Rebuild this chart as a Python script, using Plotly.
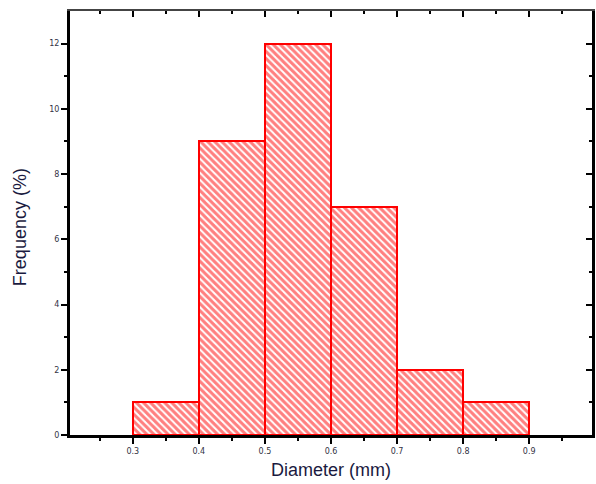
import plotly.graph_objects as go

bin_left = [0.3, 0.4, 0.5, 0.6, 0.7, 0.8]
counts = [1, 9, 12, 7, 2, 1]
bin_width = 0.1
x_ticks = [0.3, 0.4, 0.5, 0.6, 0.7, 0.8, 0.9]
x_ticklabels = ["0.3", "0.4", "0.5", "0.6", "0.7", "0.8", "0.9"]
x_minor = [0.25, 0.35, 0.45, 0.55, 0.65, 0.75, 0.85, 0.95]
y_ticks = [0, 2, 4, 6, 8, 10, 12]
y_minor = [1, 3, 5, 7, 9, 11]

centers = [b + bin_width / 2 for b in bin_left]

fig = go.Figure()
fig.add_trace(go.Bar(
    x=centers, y=counts, width=[bin_width] * len(counts),
    marker=dict(color="white",
                line=dict(color="#ff0000", width=2),
                pattern=dict(shape="\\", fgcolor="#ff0000", bgcolor="white",
                             size=5, solidity=0.6, fillmode="overlay")),
    showlegend=False, hoverinfo="skip"))
# invisible trace for mirrored axes
fig.add_trace(go.Scatter(x=[0.25], y=[0], xaxis="x2", yaxis="y2",
                         mode="markers", marker=dict(opacity=0),
                         showlegend=False, hoverinfo="skip"))

tickfont = dict(family="DejaVu Sans", size=8, color="#333344")
titlefont = dict(family="Liberation Sans", size=18, color="#1a1a40")
xr = [0.205, 0.995]
fig.update_layout(
    width=596, height=484,
    margin=dict(l=70, r=4, t=11, b=49, autoexpand=False),
    plot_bgcolor="white", paper_bgcolor="white",
    bargap=0,
    xaxis=dict(range=xr, tickvals=x_ticks, ticktext=x_ticklabels, automargin=False,
               ticks="outside", ticklen=6, tickwidth=2, tickcolor="black",
               showline=True, linecolor="black", linewidth=3,
               showgrid=False, zeroline=False, tickfont=tickfont,
               minor=dict(tickvals=x_minor, ticks="outside", ticklen=3,
                          tickcolor="black", tickwidth=1.5)),
    yaxis=dict(range=[0, 13], tickvals=y_ticks, automargin=False,
               ticks="outside", ticklen=6, tickwidth=2, tickcolor="black",
               showline=True, linecolor="black", linewidth=3,
               showgrid=False, zeroline=False, tickfont=tickfont,
               minor=dict(tickvals=y_minor, ticks="outside", ticklen=3,
                          tickcolor="black", tickwidth=1.5)),
    xaxis2=dict(overlaying="x", side="top", range=xr, tickvals=x_ticks, automargin=False,
                showticklabels=False, ticks="inside", ticklen=6, tickwidth=2,
                tickcolor="black", showline=True, linecolor="#444444", linewidth=1.5,
                showgrid=False, zeroline=False,
                minor=dict(tickvals=x_minor, ticks="inside", ticklen=3,
                           tickcolor="black", tickwidth=1.5)),
    yaxis2=dict(overlaying="y", side="right", range=[0, 13], tickvals=y_ticks, automargin=False,
                showticklabels=False, ticks="inside", ticklen=6, tickwidth=2,
                tickcolor="black", showline=True, linecolor="black", linewidth=3,
                showgrid=False, zeroline=False,
                minor=dict(tickvals=y_minor, ticks="inside", ticklen=3,
                           tickcolor="black", tickwidth=1.5)),
    annotations=[
        dict(text="Diameter (mm)", xref="paper", yref="paper", x=0.5, y=-0.083,
             xanchor="center", yanchor="middle", showarrow=False, font=titlefont),
        dict(text="Frequency (%)", xref="paper", yref="paper", x=-0.096, y=0.49,
             xanchor="center", yanchor="middle", textangle=-90, showarrow=False,
             font=titlefont),
    ],
)

fig.write_html("out.html")
